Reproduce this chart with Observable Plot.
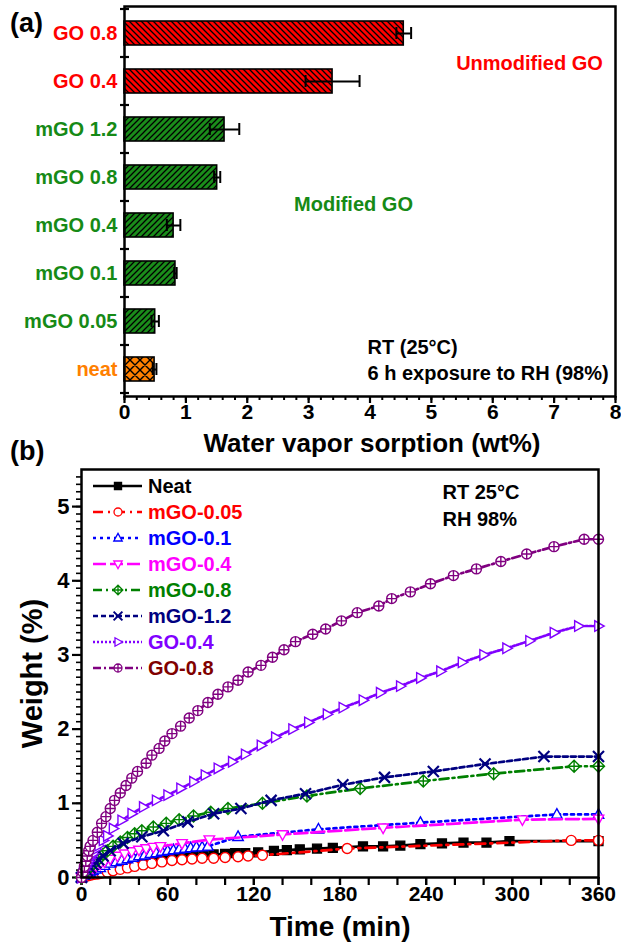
<!DOCTYPE html>
<html><head><meta charset="utf-8">
<script src="https://cdn.jsdelivr.net/npm/d3@7"></script>
<script src="https://cdn.jsdelivr.net/npm/@observablehq/plot@0.6"></script>
<style>
body{margin:0;background:#fff;}
#wrap{position:relative;width:621px;height:947px;font-family:"Liberation Sans",Arial,sans-serif;font-weight:bold;background:#fff;}
.panel{position:absolute;font-size:27px;font-weight:bold;color:#000;}
</style></head><body>
<svg width="0" height="0" style="position:absolute">
  <defs>
    <pattern id="hatchRed" patternUnits="userSpaceOnUse" width="6" height="6">
      <rect width="6" height="6" fill="#ff0000"/>
      <path d="M0,0L6,6M-1,5L1,7M5,-1L7,1" stroke="#000" stroke-width="1.3"/>
    </pattern>
    <pattern id="hatchGreen" patternUnits="userSpaceOnUse" width="6" height="6">
      <rect width="6" height="6" fill="#1a8c1a"/>
      <path d="M0,6L6,0M-1,1L1,-1M5,7L7,5" stroke="#000" stroke-width="1.3"/>
    </pattern>
    <pattern id="crossOrange" patternUnits="userSpaceOnUse" width="10" height="10">
      <rect width="10" height="10" fill="#ff8000"/>
      <path d="M0,0L10,10M0,10L10,0M-1,1L1,-1M9,11L11,9M-1,9L1,11M9,-1L11,1" stroke="#000" stroke-width="1.4"/>
    </pattern>
  </defs>
</svg>
<div id="wrap">
  <div class="panel" style="left:10px;top:8px;">(a)</div>
  <div class="panel" style="left:10px;top:436px;">(b)</div>
</div>
<script>
// ---------- Panel (a) data ----------
const samples = ["GO 0.8","GO 0.4","mGO 1.2","mGO 0.8","mGO 0.4","mGO 0.1","mGO 0.05","neat"];
const sorption = [4.55, 3.39, 1.63, 1.51, 0.80, 0.83, 0.50, 0.49];
const sorptionErr = [0.12, 0.44, 0.24, 0.05, 0.11, 0.02, 0.06, 0.03];
const sampleGroups = ["GO","GO","mGO","mGO","mGO","mGO","mGO","neat"];
const xTicksA = [0,1,2,3,4,5,6,7,8];

// ---------- Panel (b) data ----------
const seriesNames = ["Neat","mGO-0.05","mGO-0.1","mGO-0.4","mGO-0.8","mGO-1.2","GO-0.4","GO-0.8"];
const neatT = [0,1,2,3,4,5,6,8,10,12,15,18,21,25,30,35,40,45,50,55,60,66,72,78,85,92,100,107,114,123,134,143,152,164,175,196,210,222,236,251,266,282,298,360];
const neatW = [0,0.02,0.04,0.06,0.07,0.08,0.09,0.11,0.12,0.14,0.16,0.17,0.19,0.20,0.22,0.23,0.24,0.25,0.26,0.27,0.28,0.29,0.29,0.30,0.31,0.31,0.32,0.33,0.33,0.34,0.36,0.37,0.38,0.39,0.40,0.42,0.42,0.43,0.45,0.46,0.47,0.47,0.49,0.49];
const mgo005T = [0,2,4,6,8,10,12,14,18,22,27,32,37,43,49,56,63,70,77,84,92,100,109,116,126,185,341,360];
const mgo005W = [0,0.01,0.02,0.03,0.04,0.045,0.05,0.06,0.07,0.09,0.11,0.13,0.15,0.17,0.19,0.21,0.23,0.24,0.25,0.26,0.26,0.27,0.28,0.29,0.30,0.39,0.50,0.50];
const mgo01T = [0,2,4,6,8,10,13,16,20,24,28,32,36,40,44,48,52,56,60,64,68,72,76,80,84,88,109,165,236,331,360];
const mgo01W = [0,0.03,0.05,0.07,0.09,0.11,0.13,0.16,0.19,0.21,0.23,0.25,0.27,0.29,0.30,0.32,0.33,0.35,0.36,0.37,0.38,0.39,0.40,0.41,0.41,0.42,0.55,0.65,0.74,0.85,0.85];
const mgo04T = [0,2,4,6,8,10,13,16,20,25,30,35,40,45,50,55,70,89,140,210,307,360];
const mgo04W = [0,0.04,0.07,0.10,0.13,0.15,0.18,0.21,0.25,0.29,0.32,0.35,0.37,0.39,0.41,0.42,0.46,0.51,0.58,0.67,0.78,0.79];
const mgo08T = [0,2,4,6,8,10,12,15,18,22,27,32,37,42,50,59,68,78,90,102,126,157,194,238,287,343,360];
const mgo08W = [0,0.05,0.10,0.14,0.18,0.22,0.25,0.31,0.36,0.42,0.48,0.54,0.59,0.63,0.68,0.73,0.78,0.83,0.88,0.93,1.00,1.10,1.20,1.30,1.40,1.50,1.50];
const mgo12T = [0,2,4,6,8,10,12,15,20,29,42,57,74,92,111,132,156,182,211,245,281,322,360];
const mgo12W = [0,0.05,0.09,0.13,0.17,0.20,0.24,0.29,0.36,0.46,0.55,0.63,0.75,0.86,0.93,1.04,1.13,1.25,1.35,1.43,1.53,1.63,1.63];
const go04T = [0,1,2,3,4,5,6,7,8,10,12,15,18,22,28,35,43,52,60,69,78,86,95,105,114,125,135,147,158,171,182,196,208,222,236,250,265,280,296,312,329,346,360];
const go04W = [0,0.05,0.10,0.14,0.18,0.22,0.26,0.29,0.32,0.38,0.43,0.50,0.56,0.66,0.77,0.86,0.95,1.04,1.11,1.20,1.29,1.38,1.47,1.56,1.66,1.78,1.89,2.00,2.09,2.20,2.29,2.39,2.49,2.58,2.69,2.78,2.90,3.00,3.09,3.19,3.30,3.39,3.39];
const go08T = [0,1,2,3,4,5,6,8,11,14,17,20,23,27,31,35,39,45,49,54,58,63,69,75,81,88,95,102,109,116,125,133,141,149,161,170,181,192,207,216,229,243,259,275,292,310,329,350,360];
const go08W = [0,0.07,0.15,0.22,0.29,0.36,0.42,0.50,0.61,0.73,0.82,0.93,1.04,1.14,1.24,1.34,1.43,1.54,1.65,1.74,1.84,1.94,2.04,2.15,2.25,2.36,2.47,2.57,2.66,2.77,2.86,2.97,3.07,3.18,3.28,3.35,3.46,3.57,3.66,3.76,3.85,3.96,4.07,4.16,4.26,4.36,4.46,4.56,4.56];
const xTicksB = [0,60,120,180,240,300,360];
const yTicksB = [0,1,2,3,4,5];

// ---------- styles ----------
const FONT = '"Liberation Sans", Arial, sans-serif';
const groupLabelColor = {GO:"#ff0000", mGO:"#168a16", neat:"#ff8000"};
const groupFill = {GO:"url(#hatchRed)", mGO:"url(#hatchGreen)", neat:"url(#crossOrange)"};
const seriesColors = ["#000000","#ff0000","#0000ff","#ff00ff","#008000","#000080","#8000ff","#800080"];
const legendTextColors = ["#000000","#ff0000","#0000ff","#ff00ff","#008000","#000080","#8000ff","#800000"];
const seriesDash = [null,"10,5,2,5","3,4","13,4","9,4,2,4","5,3","2,2","8,3,2,3"];

function poly(pts){return {draw(c,s){const r=Math.sqrt(s/Math.PI);c.moveTo(pts[0][0]*r,pts[0][1]*r);for(let k=1;k<pts.length;k++)c.lineTo(pts[k][0]*r,pts[k][1]*r);c.closePath();}};}
const triUp = poly([[0,-1.15],[1.05,0.75],[-1.05,0.75]]);
const triDown = poly([[0,1.15],[1.05,-0.75],[-1.05,-0.75]]);
const triRight = poly([[1.15,0],[-0.75,-1.05],[-0.75,1.05]]);
const circleCross = {draw(c,s){const r=Math.sqrt(s/Math.PI);c.moveTo(r,0);c.arc(0,0,r,0,2*Math.PI);c.moveTo(-r,0);c.lineTo(r,0);c.moveTo(0,-r);c.lineTo(0,r);}};
const diamondCross = {draw(c,s){const r=Math.sqrt(s/Math.PI)*1.2;c.moveTo(0,-r);c.lineTo(r,0);c.lineTo(0,r);c.lineTo(-r,0);c.closePath();c.moveTo(-r,0);c.lineTo(r,0);c.moveTo(0,-r);c.lineTo(0,r);}};
const xMark = {draw(c,s){const r=Math.sqrt(s/Math.PI)*1.1;c.moveTo(-r,-r);c.lineTo(r,r);c.moveTo(-r,r);c.lineTo(r,-r);c.moveTo(-r*0.5,0);c.lineTo(r*0.5,0);}};
const circleOpen = {draw(c,s){const r=Math.sqrt(s/Math.PI);c.moveTo(r,0);c.arc(0,0,r,0,2*Math.PI);}};
const seriesSymbols = [d3.symbolSquare, circleOpen, triUp, triDown, diamondCross, xMark, triRight, circleCross];
const seriesMarkerFill = ["#000000","white","white","white","white","none","white","white"];

const T = (o)=>({lineAnchor:"middle", fontWeight:"bold", ...o});

// ---------- Panel (a) ----------
const dataA = samples.map((s,i)=>({s, v:sorption[i], e:sorptionErr[i], g:sampleGroups[i]}));
const groupsList = ["GO","mGO","neat"];
const plotA = Plot.plot({
  width:621, height:460,
  marginLeft:124, marginRight:6, marginTop:6, marginBottom:64,
  style:{display:"block", fontFamily:FONT, fontWeight:"bold", color:"black", background:"white", overflow:"visible"},
  x:{domain:[0,8]},
  y:{domain:samples, paddingInner:0.49, paddingOuter:0.245},
  marks:[
    ...groupsList.map(g=>Plot.barX(dataA,{filter:d=>d.g===g, y:"s", x:"v", fill:groupFill[g], stroke:"black", strokeWidth:1.6})),
    Plot.ruleY(dataA,{y:"s", x1:d=>d.v-d.e, x2:d=>d.v+d.e, stroke:"black", strokeWidth:2}),
    Plot.tickX(dataA,{y:"s", x:d=>d.v+d.e, stroke:"black", strokeWidth:2, insetTop:6, insetBottom:6}),
    Plot.tickX(dataA,{y:"s", x:d=>d.v-d.e, stroke:"black", strokeWidth:2, insetTop:6, insetBottom:6}),
    Plot.axisX(xTicksA,{tickSize:7, tickPadding:1, strokeWidth:2.2, fontSize:21, fontWeight:"bold", label:null, tickFormat:d=>String(d)}),
    Plot.axisX(d3.range(0,41).map(k=>k/5),{tickSize:4, strokeWidth:2, tickFormat:()=>"", label:null}),
    ...groupsList.map(g=>Plot.axisY(samples.filter((s,i)=>sampleGroups[i]===g),{tickSize:0, tickPadding:7, fontSize:20, fontWeight:"bold", fill:groupLabelColor[g], label:null})),
    Plot.frame({stroke:"black", strokeWidth:2.5}),
    Plot.text(["Unmodified GO"],T({text:d=>d, frameAnchor:"top-left", dx:405, dy:57, textAnchor:"middle", fill:"#ff0000", fontSize:20})),
    Plot.text(["Modified GO"],T({text:d=>d, frameAnchor:"top-left", dx:229, dy:198, textAnchor:"middle", fill:"#168a16", fontSize:20})),
    Plot.text(["RT (25°C)"],T({text:d=>d, frameAnchor:"top-left", dx:243, dy:341, textAnchor:"start", fill:"black", fontSize:20})),
    Plot.text(["6 h exposure to RH (98%)"],T({text:d=>d, frameAnchor:"top-left", dx:243, dy:367, textAnchor:"start", fill:"black", fontSize:20})),
    Plot.text(["Water vapor sorption (wt%)"],T({text:d=>d, frameAnchor:"bottom", dx:2, dy:47, textAnchor:"middle", fill:"black", fontSize:26}))
  ]
});
// band-boundary ticks on the category axis
{
  const ys = plotA.scale("y"), xs = plotA.scale("x");
  const gap = (ys.step - ys.bandwidth)/2;
  const bounds = samples.map(s=>ys.apply(s)-gap);
  bounds.push(ys.apply(samples[samples.length-1]) + ys.bandwidth + gap);
  const x0 = xs.apply(0);
  d3.select(plotA).append("g").attr("stroke","black").attr("stroke-width",2.2)
    .selectAll("line").data(bounds).join("line")
    .attr("x1",x0-4).attr("x2",x0+5).attr("y1",d=>d).attr("y2",d=>d);
}

// ---------- Panel (b) ----------
const seriesT = [neatT,mgo005T,mgo01T,mgo04T,mgo08T,mgo12T,go04T,go08T];
const seriesW = [neatW,mgo005W,mgo01W,mgo04W,mgo08W,mgo12W,go04W,go08W];
const rowsB = seriesNames.map((name,i)=>seriesT[i].map((t,k)=>({name, t, w:seriesW[i][k]})));
const seriesMarks = [];
seriesNames.forEach((name,i)=>{
  seriesMarks.push(Plot.line(rowsB[i],{x:"t", y:"w", stroke:seriesColors[i], strokeWidth:2.7, strokeDasharray:seriesDash[i]||undefined}));
  seriesMarks.push(Plot.dot(rowsB[i],{x:"t", y:"w", symbol:seriesSymbols[i], r:5, stroke:seriesColors[i], strokeWidth:i===5?2.2:1.4, fill:seriesMarkerFill[i]}));
});
const plotB = Plot.plot({
  width:621, height:487,
  marginLeft:81, marginRight:23, marginTop:9, marginBottom:70,
  style:{display:"block", fontFamily:FONT, fontWeight:"bold", color:"black", background:"white", overflow:"visible"},
  x:{domain:[0,360]},
  y:{domain:[0,5.5]},
  marks:[
    Plot.axisX(xTicksB,{tickSize:8, tickPadding:1, strokeWidth:2.2, fontSize:21, fontWeight:"bold", label:null, tickFormat:d=>String(d)}),
    Plot.axisX(d3.range(0,361,20),{tickSize:8, strokeWidth:2.2, tickFormat:()=>"", label:null}),
    Plot.axisY(yTicksB,{tickSize:9, tickPadding:3, strokeWidth:2.2, fontSize:22, fontWeight:"bold", label:null, tickFormat:d=>String(d)}),
    Plot.axisY(d3.range(0,55).map(k=>k/10),{tickSize:5, strokeWidth:1.6, tickFormat:()=>"", label:null}),
    ...seriesMarks,
    Plot.frame({stroke:"black", strokeWidth:2.5}),
    Plot.text(["RT 25°C"],T({text:d=>d, frameAnchor:"top-left", dx:361, dy:23, textAnchor:"start", fill:"black", fontSize:20})),
    Plot.text(["RH 98%"],T({text:d=>d, frameAnchor:"top-left", dx:361, dy:50, textAnchor:"start", fill:"black", fontSize:20})),
    Plot.text(["Time (min)"],T({text:d=>d, frameAnchor:"bottom", dx:0, dy:50, textAnchor:"middle", fill:"black", fontSize:28})),
    Plot.text(["Weight (%)"],T({text:d=>d, frameAnchor:"left", dx:-49, dy:0, rotate:-90, textAnchor:"middle", fill:"black", fontSize:29}))
  ]
});
// legend inside panel (b)
{
  const lg = d3.select(plotB).append("g").attr("transform","translate(93,26)");
  seriesNames.forEach((name,i)=>{
    const g = lg.append("g").attr("transform",`translate(0,${i*26})`);
    g.append("line").attr("x1",0).attr("x2",49).attr("y1",0).attr("y2",0)
      .attr("stroke",seriesColors[i]).attr("stroke-width",2.7)
      .attr("stroke-dasharray",seriesDash[i]||null);
    g.append("path").attr("d",d3.symbol().type(seriesSymbols[i]).size(Math.PI*16)())
      .attr("transform","translate(25,0)")
      .attr("fill",seriesMarkerFill[i]).attr("stroke",seriesColors[i]).attr("stroke-width",i===5?2:1.3);
    g.append("text").attr("x",55).attr("dy","0.36em").attr("text-anchor","start").attr("fill",legendTextColors[i])
      .attr("font-size",20).attr("font-weight","bold").text(name);
  });
}
const wrap = document.getElementById("wrap");
plotA.style.position="absolute"; plotA.style.left="0px"; plotA.style.top="0px";
plotB.style.position="absolute"; plotB.style.left="0px"; plotB.style.top="460px";
wrap.insertBefore(plotB, wrap.firstChild);
wrap.insertBefore(plotA, wrap.firstChild);
</script>
</body></html>
